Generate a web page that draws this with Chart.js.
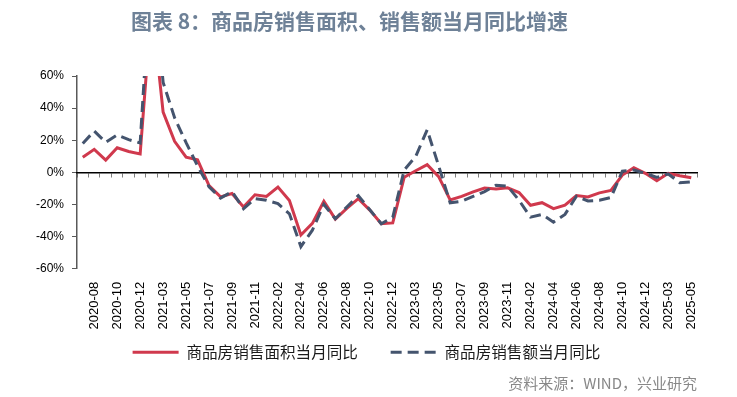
<!DOCTYPE html>
<html>
<head>
<meta charset="utf-8">
<script src="https://cdn.jsdelivr.net/npm/chart.js@4/dist/chart.umd.min.js"></script>
<style>
  html, body { margin: 0; padding: 0; background: #fff; }
  #wrap { position: relative; width: 737px; height: 397px; }
  #title { position: absolute; left: 0; top: 6px; width: 699px; text-align: center;
           font-family: "Noto Sans CJK SC", sans-serif; font-weight: bold; font-size: 21px;
           color: #6e8197; line-height: 28px; white-space: nowrap; }
  canvas { position: absolute; left: 0; top: 0; }
</style>
</head>
<body>
<div id="wrap">
  <canvas id="c" width="737" height="397"></canvas>
  <div id="title">图表 8：商品房销售面积、销售额当月同比增速</div>
</div>
<script>
// Categories (monthly; Jan merged into Feb)
const categories = [
  '2020-07','2020-08','2020-09','2020-10','2020-11','2020-12',
  '2021-02','2021-03','2021-04','2021-05','2021-06','2021-07','2021-08','2021-09','2021-10','2021-11','2021-12',
  '2022-02','2022-03','2022-04','2022-05','2022-06','2022-07','2022-08','2022-09','2022-10','2022-11','2022-12',
  '2023-02','2023-03','2023-04','2023-05','2023-06','2023-07','2023-08','2023-09','2023-10','2023-11','2023-12',
  '2024-02','2024-03','2024-04','2024-05','2024-06','2024-07','2024-08','2024-09','2024-10','2024-11','2024-12',
  '2025-02','2025-03','2025-04','2025-05'
];
// 商品房销售面积当月同比 (%)
const areaYoY = [
  9.4, 14.3, 7.6, 15.3, 13.0, 11.5,
  104.9, 37.5, 19.3, 9.4, 7.8, -8.3, -15.3, -13.2, -21.6, -14.0, -15.0,
  -9.2, -17.6, -39.0, -31.8, -18.0, -29.1, -22.5, -16.4, -23.5, -32.0, -31.5,
  -3.0, 1.0, 4.8, -2.7, -17.2, -15.0, -12.2, -9.8, -10.3, -9.6, -12.6,
  -20.5, -18.9, -22.6, -20.5, -14.5, -15.3, -12.8, -11.3, -1.7, 2.9, -0.6,
  -5.2, -0.6, -2.1, -3.4
];
// 商品房销售额当月同比 (%)
const salesYoY = [
  18.0, 25.7, 18.7, 23.3, 20.4, 18.3,
  133.4, 56.0, 34.0, 18.5, 4.0, -9.0, -16.0, -12.0, -22.6, -16.4, -17.4,
  -19.5, -25.8, -46.3, -36.0, -20.0, -28.9, -21.6, -14.5, -23.3, -32.0, -28.0,
  1.5, 9.9, 26.5, 4.0, -19.0, -18.0, -15.0, -12.0, -8.0, -8.6, -17.4,
  -27.9, -26.2, -31.0, -26.2, -14.9, -17.8, -17.4, -15.7, 0.7, 1.5, -0.6,
  -3.1, -1.0, -6.5, -5.9
];
const yTickValues = [-60, -40, -20, 0, 20, 40, 60];
const seriesNames = ['商品房销售面积当月同比', '商品房销售额当月同比'];
const sourceText = '资料来源：WIND，兴业研究';

const latin = '"Liberation Sans", Arial, sans-serif';
const cjk = '"Noto Sans CJK SC", sans-serif';

new Chart(document.getElementById('c'), {
  type: 'line',
  data: {
    labels: categories,
    datasets: [
      { label: seriesNames[0], data: areaYoY, borderColor: '#d0394d', backgroundColor: '#d0394d',
        borderWidth: 3, pointRadius: 0, tension: 0, order: 1 },
      { label: seriesNames[1], data: salesYoY, borderColor: '#44546e', backgroundColor: '#44546e',
        borderWidth: 3, borderDash: [11, 6], pointRadius: 0, tension: 0, order: 0 }
    ]
  },
  options: {
    responsive: false,
    devicePixelRatio: 1,
    animation: false,
    layout: { padding: { left: 36, right: 40, top: 76, bottom: 0 } },
    scales: {
      y: {
        min: yTickValues[0], max: yTickValues[yTickValues.length - 1],
        afterBuildTicks: s => { s.ticks = yTickValues.map(v => ({ value: v })); },
        afterFit: s => { s.width = s.width - 8; },
        ticks: { callback: v => v + '%', color: '#000', font: { family: latin, size: 12 }, padding: 8 },
        grid: { drawOnChartArea: false, drawTicks: true, tickLength: 5, color: '#595959', lineWidth: 1 },
        border: { display: true, color: '#595959', width: 1.5 }
      },
      x: {
        position: { y: 0 },
        offset: true,
        ticks: { display: false },
        grid: { drawOnChartArea: false, drawTicks: true, tickLength: 4, offset: true, color: '#7f7f7f', lineWidth: 1 },
        border: { display: true, color: '#000', width: 1.5 }
      },
      x2: {
        type: 'category',
        labels: categories,
        position: 'bottom',
        offset: true,
        grid: { display: false, drawTicks: false },
        border: { display: false },
        afterFit: s => { s.height = s.height - 12; },
        ticks: {
          autoSkip: false, minRotation: 90, maxRotation: 90, padding: 13,
          color: '#000', font: { family: latin, size: 13 },
          callback: (v, i) => (i % 2 === 1 ? categories[i] : '')
        }
      }
    },
    plugins: {
      legend: {
        position: 'bottom',
        labels: {
          usePointStyle: true, pointStyle: 'line', pointStyleWidth: 46,
          color: '#1a1a1a', font: { family: cjk, size: 15.6 }, padding: 14,
          sort: (a, b) => a.datasetIndex - b.datasetIndex,
          generateLabels: chart => {
            const items = Chart.defaults.plugins.legend.labels.generateLabels(chart);
            items.forEach(it => {
              const ds = chart.data.datasets[it.datasetIndex];
              it.lineWidth = ds.borderWidth;
              it.strokeStyle = ds.borderColor;
              it.lineDash = ds.borderDash || [];
              it.lineCap = 'butt';
              if (it.datasetIndex === 0) it.text = it.text + '\u2003\u2009';
            });
            return items;
          }
        }
      },
      subtitle: {
        display: true, position: 'bottom', align: 'end', text: sourceText,
        color: '#888888', font: { family: cjk, size: 15 }, padding: { top: 4, bottom: 5 }
      },
      title: { display: false },
      tooltip: { enabled: false }
    }
  }
});
</script>
</body>
</html>
